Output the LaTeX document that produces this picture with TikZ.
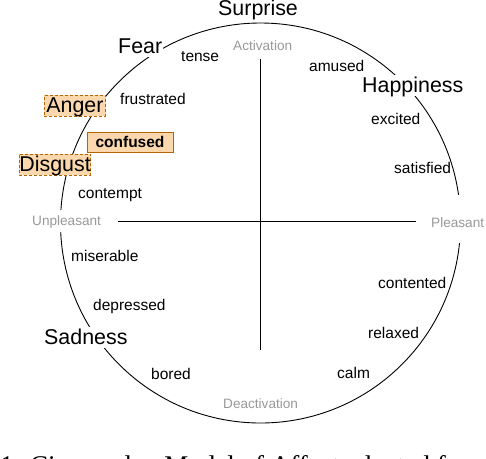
\documentclass[tikz,border=0pt]{standalone}
\usepackage{fontspec}
\setmainfont{Liberation Sans}
\newfontfamily\capfont{Liberation Serif}
\definecolor{axisgray}{RGB}{153,153,153}
\definecolor{boxfill}{RGB}{250,215,172}
\definecolor{boxline}{RGB}{180,101,4}
\begin{document}
\begin{tikzpicture}[x=1pt,y=-1pt,
  big/.style={font=\fontsize{21.4}{24}\selectfont, inner xsep=0pt, inner ysep=0pt,
    text height=17pt, text depth=4pt, anchor=base west, fill=white},
  emo/.style={font=\fontsize{15.5}{18}\selectfont, inner sep=0pt, anchor=base west},
  axislbl/.style={font=\fontsize{13.6}{16}\selectfont, text=axisgray, inner xsep=0pt,
    inner ysep=0pt, anchor=base west, fill=white},
  hilite/.style={fill=boxfill, draw=boxline, line width=0.8pt},
  wheel/.style={line width=0.9pt},
  axisline/.style={line width=0.9pt}]
\useasboundingbox (0,0) rectangle (486,458);
\fill[white] (0,0) rectangle (486,458);

% circle
\draw[wheel] (260.5,223) circle[radius=200pt];

% axes
\coordinate (hl) at (118,221);
\coordinate (hr) at (416,221);
\coordinate (vt) at (260.5,59);
\coordinate (vb) at (260.5,350);
\draw[axisline] (hl) -- (hr);
\draw[axisline] (vt) -- (vb);

% axis labels
\node[axislbl] (act) at (233,50) {Activation};
\node[axislbl] (deact) at (223,408) {Deactivation};
\node[axislbl, text height=15pt, text depth=7pt] (unpl) at (32,225) {Unpleasant};
\node[axislbl, text height=32pt, text depth=16pt] (pl) at (431,227) {Pleasant};

% basic emotions
\node[big] (surprise) at (218,15) {Surprise};
\node[big, inner xsep=1pt] (fear) at (117,53) {Fear};
\node[big] (happy) at (362,92) {Happiness};
\node[big] (sad) at (44,344) {Sadness};
\node[big, hilite, dash pattern=on 3pt off 2pt, inner xsep=2pt] (anger) at (44,112) {Anger};
\node[big, hilite, dash pattern=on 3pt off 2pt, inner xsep=0pt] (disgust) at (19,171) {Disgust};
\node[hilite, font=\fontsize{15.5}{18}\selectfont\bfseries, inner sep=0pt,
  minimum width=86pt, minimum height=20pt] (confused) at (130,142) {confused};

% affect words
\node[emo] (tense) at (181,61) {tense};
\node[emo] (frus) at (120,104) {frustrated};
\node[emo] (contempt) at (78,198) {contempt};
\node[emo] (amused) at (309,71) {amused};
\node[emo] (excited) at (371,124) {excited};
\node[emo] (satisfied) at (394,173) {satisfied};
\node[emo] (miserable) at (71,261) {miserable};
\node[emo] (depressed) at (93,310) {depressed};
\node[emo] (bored) at (151,379) {bored};
\node[emo] (contented) at (378,288) {contented};
\node[emo] (relaxed) at (368,338) {relaxed};
\node[emo] (calm) at (337,378) {calm};

% cut-off caption
\begin{scope}
\clip (0,0) rectangle (486,458);
\node[font=\capfont\fontsize{27}{30}\selectfont, inner sep=0pt, anchor=base west]
  (caption) at (0,474) {1: Circumplex Model of Affect adapted from};
\end{scope}
\end{tikzpicture}
\end{document}
